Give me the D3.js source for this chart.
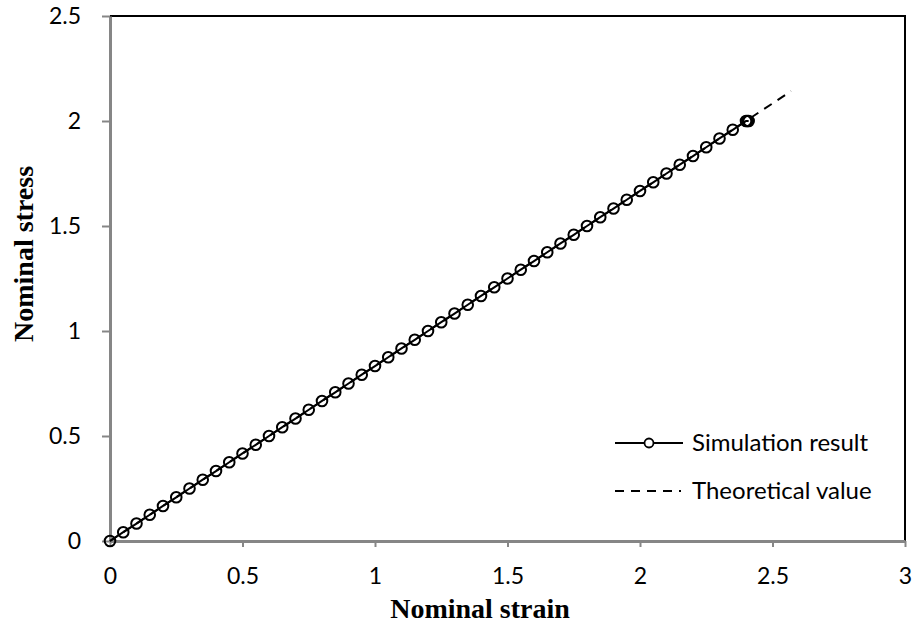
<!DOCTYPE html>
<html>
<head>
<meta charset="utf-8">
<script src="https://cdn.jsdelivr.net/npm/d3@7"></script>
<style>
  body { margin: 0; background: #fff; }
  text { font-family: Lato, "Open Sans", sans-serif; }
</style>
</head>
<body>
<script>
// Simulation result (strain, stress)
const simStrain = [0, 0.05, 0.1, 0.15, 0.2, 0.25, 0.3, 0.35, 0.4, 0.45,
    0.5, 0.55, 0.6, 0.65, 0.7, 0.75, 0.8, 0.85, 0.9, 0.95,
    1.0, 1.05, 1.1, 1.15, 1.2, 1.25, 1.3, 1.35, 1.4, 1.45,
    1.5, 1.55, 1.6, 1.65, 1.7, 1.75, 1.8, 1.85, 1.9, 1.95,
    2.0, 2.05, 2.1, 2.15, 2.2, 2.25, 2.3, 2.35, 2.4, 2.405, 2.41];
const simStress = [0, 0.042, 0.083, 0.125, 0.167, 0.208, 0.25, 0.292, 0.333, 0.375,
    0.417, 0.458, 0.5, 0.542, 0.583, 0.625, 0.667, 0.708, 0.75, 0.792,
    0.833, 0.875, 0.917, 0.958, 1.0, 1.042, 1.083, 1.125, 1.167, 1.208,
    1.25, 1.292, 1.333, 1.375, 1.417, 1.458, 1.5, 1.542, 1.583, 1.625,
    1.667, 1.708, 1.75, 1.792, 1.833, 1.875, 1.917, 1.958, 2.0, 2.0, 2.0];

// Theoretical value
const theoStrain = [0, 2.57];
const theoStress = [0, 2.142];

const xTicks = [0, 0.5, 1, 1.5, 2, 2.5, 3];
const yTicks = [0, 0.5, 1, 1.5, 2, 2.5];

const width = 916, height = 634;
const margin = { top: 16, right: 11, bottom: 93, left: 110 };

const svg = d3.select("body").append("svg")
    .attr("width", width)
    .attr("height", height);

const x = d3.scaleLinear().domain([0, 3]).range([margin.left, width - margin.right]);
const y = d3.scaleLinear().domain([0, 2.5]).range([height - margin.bottom, margin.top]);

// Top and right border (black)
svg.append("path")
    .attr("d", `M${x(0)},${y(2.5)}H${x(3)}V${y(0)}`)
    .attr("fill", "none")
    .attr("stroke", "#000")
    .attr("stroke-width", 2);

// Axes (gray)
const xAxis = svg.append("g")
    .attr("transform", `translate(0,${y(0)})`)
    .call(d3.axisBottom(x).tickValues(xTicks).tickSize(6).tickSizeOuter(0).tickPadding(21).tickFormat(d3.format("")));
const yAxis = svg.append("g")
    .attr("transform", `translate(${x(0)},0)`)
    .call(d3.axisLeft(y).tickValues(yTicks).tickSize(8).tickSizeOuter(0).tickPadding(21).tickFormat(d3.format("")));

[xAxis, yAxis].forEach(g => {
    g.select(".domain").attr("stroke", "#868686").attr("stroke-width", 3);
    g.selectAll(".tick line").attr("stroke", "#868686").attr("stroke-width", 2);
    g.selectAll(".tick text").attr("fill", "#000").style("font-size", "23px").style("font-family", "Lato, sans-serif");
});

// Theoretical dashed line
const theo = theoStrain.map((d, i) => [d, theoStress[i]]);
svg.append("path")
    .datum(theo)
    .attr("d", d3.line().x(d => x(d[0])).y(d => y(d[1])))
    .attr("fill", "none")
    .attr("stroke", "#000")
    .attr("stroke-width", 2)
    .attr("stroke-dasharray", "9,7");

// Simulation line + markers
const sim = simStrain.map((d, i) => [d, simStress[i]]);
svg.append("path")
    .datum(sim)
    .attr("d", d3.line().x(d => x(d[0])).y(d => y(d[1])))
    .attr("fill", "none")
    .attr("stroke", "#000")
    .attr("stroke-width", 2);

svg.append("g").selectAll("circle")
    .data(sim)
    .join("circle")
    .attr("cx", d => x(d[0]))
    .attr("cy", d => y(d[1]))
    .attr("r", 5.3)
    .attr("fill", "none")
    .attr("stroke", "#000")
    .attr("stroke-width", 2);

// Legend
const legend = svg.append("g").attr("transform", "translate(615,443)");
legend.append("line").attr("x1", 0).attr("x2", 68).attr("y1", 0).attr("y2", 0)
    .attr("stroke", "#000").attr("stroke-width", 2);
legend.append("circle").attr("cx", 34).attr("cy", 0).attr("r", 4.5)
    .attr("fill", "#fff").attr("stroke", "#000").attr("stroke-width", 1.8);
legend.append("text").attr("x", 77).attr("y", 0).attr("dy", "0.35em")
    .style("font-size", "24px").text("Simulation result");

legend.append("line").attr("x1", 0).attr("x2", 66).attr("y1", 48).attr("y2", 48)
    .attr("stroke", "#000").attr("stroke-width", 2).attr("stroke-dasharray", "9,7");
legend.append("text").attr("x", 77).attr("y", 48).attr("dy", "0.35em")
    .style("font-size", "24px").text("Theoretical value");

// Axis titles
svg.append("text")
    .attr("x", 480)
    .attr("y", 618)
    .attr("text-anchor", "middle")
    .style("font-family", "'Liberation Serif', 'Times New Roman', serif")
    .style("font-weight", "bold")
    .style("font-size", "28px")
    .text("Nominal strain");

svg.append("text")
    .attr("transform", "translate(33,254) rotate(-90)")
    .attr("text-anchor", "middle")
    .style("font-family", "'Liberation Serif', 'Times New Roman', serif")
    .style("font-weight", "bold")
    .style("font-size", "28px")
    .text("Nominal stress");
</script>
</body>
</html>
